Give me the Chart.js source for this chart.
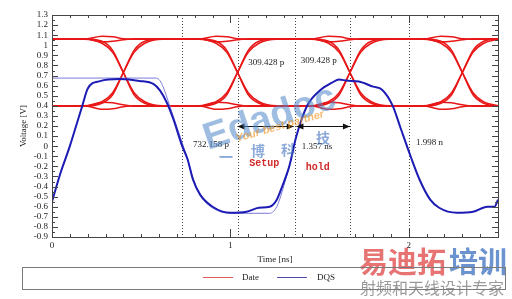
<!DOCTYPE html>
<html>
<head>
<meta charset="utf-8">
<script src="https://cdn.jsdelivr.net/npm/chart.js@4.4.1/dist/chart.umd.min.js"></script>
<style>
  body { margin: 0; background: #fff; }
  #wrap { position: relative; width: 512px; height: 299px; }
  #legend {
    position: absolute; left: 22px; top: 267px; width: 482px; height: 21px;
    border: 1px solid #7a7a7a; font: 9px "Liberation Serif", serif; color: #222;
  }
  #legend .ln { position: absolute; top: 9px; height: 1px; }
  #legend .tx { position: absolute; top: 4px; }
</style>
</head>
<body>
<div id="wrap">
  <canvas id="eyeChart" width="512" height="299"></canvas>
  <div id="legend"></div>
</div>
<script>
// Eye diagram: Date (red) vs DQS (blue), time in ns, voltage in V

// shared time points for the Date traces (around the 4 crossings 0.40 / 1.04 / 1.67 / 2.30)
const timeEye = [0.00,
  0.18, 0.28, 0.34, 0.40, 0.46, 0.52, 0.62,
  0.82, 0.92, 0.98, 1.04, 1.10, 1.16, 1.26,
  1.45, 1.55, 1.61, 1.67, 1.73, 1.79, 1.89,
  2.08, 2.18, 2.24, 2.30, 2.36, 2.42, 2.50];

// H-L-H-L-H
const dateToggleA = [1.06,
  1.06, 1.02, 0.93, 0.73, 0.53, 0.44, 0.40,
  0.40, 0.44, 0.53, 0.73, 0.93, 1.02, 1.06,
  1.06, 1.02, 0.93, 0.73, 0.53, 0.44, 0.40,
  0.40, 0.44, 0.53, 0.73, 0.93, 1.02, 1.06];
// L-H-L-H-L
const dateToggleB = [0.40,
  0.40, 0.44, 0.53, 0.73, 0.93, 1.02, 1.06,
  1.06, 1.02, 0.93, 0.73, 0.53, 0.44, 0.40,
  0.40, 0.44, 0.53, 0.73, 0.93, 1.02, 1.06,
  1.06, 1.02, 0.93, 0.73, 0.53, 0.44, 0.40];
const dateToggleC = [1.065,
  1.065, 1.04, 0.95, 0.73, 0.51, 0.425, 0.395,
  0.395, 0.425, 0.51, 0.73, 0.95, 1.04, 1.065,
  1.065, 1.04, 0.95, 0.73, 0.51, 0.425, 0.395,
  0.395, 0.425, 0.51, 0.73, 0.95, 1.04, 1.065];
const dateToggleD = [0.395,
  0.395, 0.425, 0.51, 0.73, 0.95, 1.04, 1.065,
  1.065, 1.04, 0.95, 0.73, 0.51, 0.425, 0.395,
  0.395, 0.425, 0.51, 0.73, 0.95, 1.04, 1.065,
  1.065, 1.04, 0.95, 0.73, 0.51, 0.425, 0.395];
// steady levels with the ringing near each edge
const dateHighUp = [1.06,
  1.06, 1.09, 1.085, 1.065, 1.06, 1.06, 1.06,
  1.06, 1.09, 1.085, 1.065, 1.06, 1.06, 1.06,
  1.06, 1.09, 1.085, 1.065, 1.06, 1.06, 1.06,
  1.06, 1.09, 1.085, 1.065, 1.06, 1.06, 1.06];
const dateHighDown = [1.065,
  1.065, 1.035, 1.04, 1.055, 1.065, 1.065, 1.065,
  1.065, 1.035, 1.04, 1.055, 1.065, 1.065, 1.065,
  1.065, 1.035, 1.04, 1.055, 1.065, 1.065, 1.065,
  1.065, 1.035, 1.04, 1.055, 1.065, 1.065, 1.065];
const dateLowDown = [0.40,
  0.40, 0.365, 0.37, 0.39, 0.40, 0.40, 0.40,
  0.40, 0.365, 0.37, 0.39, 0.40, 0.40, 0.40,
  0.40, 0.365, 0.37, 0.39, 0.40, 0.40, 0.40,
  0.40, 0.365, 0.37, 0.39, 0.40, 0.40, 0.40];
const dateLowUp = [0.395,
  0.395, 0.435, 0.43, 0.41, 0.395, 0.395, 0.395,
  0.395, 0.435, 0.43, 0.41, 0.395, 0.395, 0.395,
  0.395, 0.435, 0.43, 0.41, 0.395, 0.395, 0.395,
  0.395, 0.435, 0.43, 0.41, 0.395, 0.395, 0.395];

// DQS measured (thick)
const timeDqs = [0.00, 0.045, 0.10, 0.135, 0.17, 0.20, 0.27, 0.38, 0.49, 0.57, 0.606, 0.644, 0.68,
  0.73, 0.76, 0.79, 0.83, 0.90, 1.00, 1.09, 1.16, 1.22, 1.26, 1.29, 1.33, 1.37, 1.43, 1.50,
  1.57, 1.61, 1.65, 1.72, 1.80, 1.85, 1.91, 1.95, 2.01, 2.06, 2.12, 2.17, 2.27, 2.36, 2.44, 2.48, 2.50];
const dqs = [-0.55, -0.28, 0.0, 0.2, 0.40, 0.57, 0.645, 0.665, 0.647, 0.614, 0.55, 0.43, 0.27,
  0.0, -0.13, -0.33, -0.48, -0.60, -0.66, -0.65, -0.61, -0.60, -0.53, -0.40, -0.20, 0.10, 0.40, 0.55,
  0.63, 0.66, 0.65, 0.64, 0.59, 0.56, 0.40, 0.20, -0.10, -0.33, -0.53, -0.61, -0.66, -0.65, -0.60, -0.60, -0.53];

// DQS reference (thin)
const timeDqsRef = [0.00, 0.58, 0.60, 0.62, 0.66, 0.70, 0.74, 0.80, 0.86, 0.93, 1.00, 1.22, 1.26, 1.29, 1.33];
const dqsRef = [0.675, 0.675, 0.66, 0.60, 0.40, 0.19, -0.02, -0.36, -0.55, -0.64, -0.665, -0.665, -0.60, -0.45, -0.20];

// measurement cursors (ns)
const markerTimes = [0.73, 1.04, 1.36, 1.67, 2.0];

const RED = "rgb(232,22,22)";

function pts(times, vals) {
  return times.map((t, i) => ({ x: t, y: vals[i] }));
}

const redTraces = [dateToggleA, dateToggleB, dateToggleC, dateToggleD, dateHighUp, dateHighDown, dateLowDown, dateLowUp];

const datasets = [
  { label: "DQS", data: pts(timeDqs, dqs), borderColor: "#1c1cb4", borderWidth: 2 },
  { label: "DQS ref", data: pts(timeDqsRef, dqsRef), borderColor: "#7a7ad8", borderWidth: 1 },
];
redTraces.forEach((v, i) => {
  datasets.push({ label: i === 0 ? "Date" : "Date " + i, data: pts(timeEye, v), borderColor: RED, borderWidth: 1.5 });
});

// annotations placed in data units
const notes = [
  { text: "309.428 p", t: 1.10, v: 0.83, font: "9px 'Liberation Serif'", color: "#222", align: "left" },
  { text: "309.428 p", t: 1.395, v: 0.85, font: "9px 'Liberation Serif'", color: "#222", align: "left" },
  { text: "732.158 p", t: 0.79, v: 0.02, font: "9px 'Liberation Serif'", color: "#222", align: "left" },
  { text: "1.357 ns", t: 1.40, v: 0.0, font: "9px 'Liberation Serif'", color: "#222", align: "left" },
  { text: "1.998 n", t: 2.04, v: 0.04, font: "9px 'Liberation Serif'", color: "#222", align: "left" },
  { text: "Setup", t: 1.19, v: -0.17, font: "bold 10px 'Liberation Mono'", color: "#d42828", align: "center" },
  { text: "hold", t: 1.49, v: -0.21, font: "bold 10px 'Liberation Mono'", color: "#d42828", align: "center" },
];
const arrows = [
  { t1: 1.04, t2: 1.355, v: 0.2 },
  { t1: 1.37, t2: 1.67, v: 0.2 },
];

function arrowHead(ctx, x, y, dir) {
  ctx.beginPath();
  ctx.moveTo(x, y);
  ctx.lineTo(x - dir * 7, y - 3);
  ctx.lineTo(x - dir * 7, y + 3);
  ctx.closePath();
  ctx.fill();
}

const eyeDecor = {
  id: "eyeDecor",
  beforeDatasetsDraw(chart) {
    const { ctx, chartArea: a, scales: { x } } = chart;
    ctx.save();
    ctx.strokeStyle = "#444";
    ctx.lineWidth = 1;
    ctx.setLineDash([1, 2]);
    markerTimes.forEach((t) => {
      const px = Math.round(x.getPixelForValue(t)) + 0.5;
      ctx.beginPath();
      ctx.moveTo(px, a.top);
      ctx.lineTo(px, a.bottom);
      ctx.stroke();
    });
    ctx.restore();
  },
  afterDatasetsDraw(chart) {
    const { ctx, chartArea: a, scales: { x, y } } = chart;
    ctx.save();

    // frame + inner ticks on all four sides
    ctx.strokeStyle = "#444";
    ctx.lineWidth = 1;
    ctx.strokeRect(Math.round(a.left) + 0.5, Math.round(a.top) + 0.5, Math.round(a.right - a.left), Math.round(a.bottom - a.top));
    ctx.beginPath();
    for (let i = 0; i <= 44; i++) {
      const py = Math.round(y.getPixelForValue(-0.9 + i * 0.05)) + 0.5;
      const len = i % 2 === 0 ? 6 : 3;
      ctx.moveTo(a.left, py); ctx.lineTo(a.left + len, py);
      ctx.moveTo(a.right, py); ctx.lineTo(a.right - len, py);
    }
    for (let i = 0; i <= 25; i++) {
      const px = Math.round(x.getPixelForValue(i * 0.1)) + 0.5;
      const len = i % 10 === 0 ? 8 : 3;
      ctx.moveTo(px, a.bottom); ctx.lineTo(px, a.bottom - len);
      ctx.moveTo(px, a.top); ctx.lineTo(px, a.top + len);
    }
    ctx.stroke();

    // measurement arrows
    ctx.fillStyle = "#111";
    ctx.strokeStyle = "#111";
    arrows.forEach((ar) => {
      const x1 = x.getPixelForValue(ar.t1), x2 = x.getPixelForValue(ar.t2);
      const py = Math.round(y.getPixelForValue(ar.v)) + 0.5;
      ctx.beginPath(); ctx.moveTo(x1, py); ctx.lineTo(x2, py); ctx.stroke();
      arrowHead(ctx, x1, py, -1);
      arrowHead(ctx, x2, py, 1);
    });

    // labels
    ctx.textBaseline = "middle";
    notes.forEach((n) => {
      ctx.font = n.font;
      ctx.fillStyle = n.color;
      ctx.textAlign = n.align;
      ctx.fillText(n.text, x.getPixelForValue(n.t), y.getPixelForValue(n.v));
    });

    // watermark
    ctx.save();
    ctx.translate(208, 150);
    ctx.rotate(-0.32);
    ctx.textAlign = "left";
    ctx.textBaseline = "alphabetic";
    ctx.font = "bold 38px 'Liberation Sans'";
    ctx.fillStyle = "rgba(80,135,200,0.55)";
    ctx.fillText("Edadoc", 0, 0);
    ctx.restore();
    ctx.save();
    ctx.translate(237, 142);
    ctx.rotate(-0.28);
    ctx.textAlign = "left";
    ctx.textBaseline = "alphabetic";
    ctx.font = "italic bold 11px 'Liberation Sans'";
    ctx.fillStyle = "rgba(240,150,40,0.65)";
    ctx.fillText("Your best partner", 0, 0);
    ctx.restore();
    ctx.font = "bold 14px 'Noto Sans CJK SC'";
    ctx.fillStyle = "rgba(60,110,190,0.6)";
    ctx.textAlign = "center";
    [["一", 226, 157], ["博", 258, 151], ["科", 288, 150], ["技", 323, 138]].forEach((c) => {
      ctx.fillText(c[0], c[1], c[2]);
    });
    ctx.textAlign = "left";
    ctx.font = "bold 29px 'Noto Sans CJK SC'";
    ctx.fillStyle = "rgba(225,80,80,0.8)";
    ctx.fillText("易迪拓", 359, 262);
    ctx.fillStyle = "rgba(70,120,195,0.8)";
    ctx.fillText("培训", 449, 262);
    ctx.font = "16px 'Noto Sans CJK SC'";
    ctx.fillStyle = "rgba(120,120,120,0.75)";
    ctx.fillText("射频和天线设计专家", 360, 288);

    ctx.restore();
  },
};

new Chart(document.getElementById("eyeChart"), {
  type: "line",
  data: { datasets: datasets },
  options: {
    responsive: false,
    animation: false,
    layout: { padding: { left: 14, right: 14, top: 15, bottom: 30 } },
    elements: {
      point: { radius: 0 },
      line: { tension: 0.4, cubicInterpolationMode: "monotone", fill: false },
    },
    plugins: { legend: { display: false }, tooltip: { enabled: false } },
    scales: {
      x: {
        type: "linear",
        min: 0,
        max: 2.5,
        afterFit: (s) => { s.height = 32; },
        grid: { display: false, drawTicks: false },
        border: { display: false },
        ticks: { stepSize: 1, includeBounds: false, padding: 3, color: "#222", font: { family: "Liberation Serif", size: 9 } },
        title: { display: true, text: "Time [ns]", color: "#222", padding: { top: 2, bottom: 4 }, font: { family: "Liberation Serif", size: 9 } },
      },
      y: {
        min: -0.9,
        max: 1.3,
        afterFit: (s) => { s.width = 38; },
        grid: { display: false, drawTicks: false },
        border: { display: false },
        ticks: {
          stepSize: 0.1,
          autoSkip: false,
          padding: 4,
          color: "#222",
          font: { family: "Liberation Serif", size: 9 },
          callback: (v) => String(Math.round(v * 10) / 10),
        },
        title: { display: true, text: "Voltage [V]", color: "#222", padding: { top: 4, bottom: 4 }, font: { family: "Liberation Serif", size: 9 } },
      },
    },
  },
  plugins: [eyeDecor],
});

// legend
const legendItems = [
  { label: "Date", color: "#e05a5a", lineLeft: 180, textLeft: 219 },
  { label: "DQS", color: "#4a4aa8", lineLeft: 254, textLeft: 294 },
];
const legend = document.getElementById("legend");
legendItems.forEach((it) => {
  const ln = document.createElement("div");
  ln.className = "ln";
  ln.style.left = it.lineLeft + "px";
  ln.style.width = "30px";
  ln.style.background = it.color;
  legend.appendChild(ln);
  const tx = document.createElement("div");
  tx.className = "tx";
  tx.style.left = it.textLeft + "px";
  tx.textContent = it.label;
  legend.appendChild(tx);
});
</script>
</body>
</html>
